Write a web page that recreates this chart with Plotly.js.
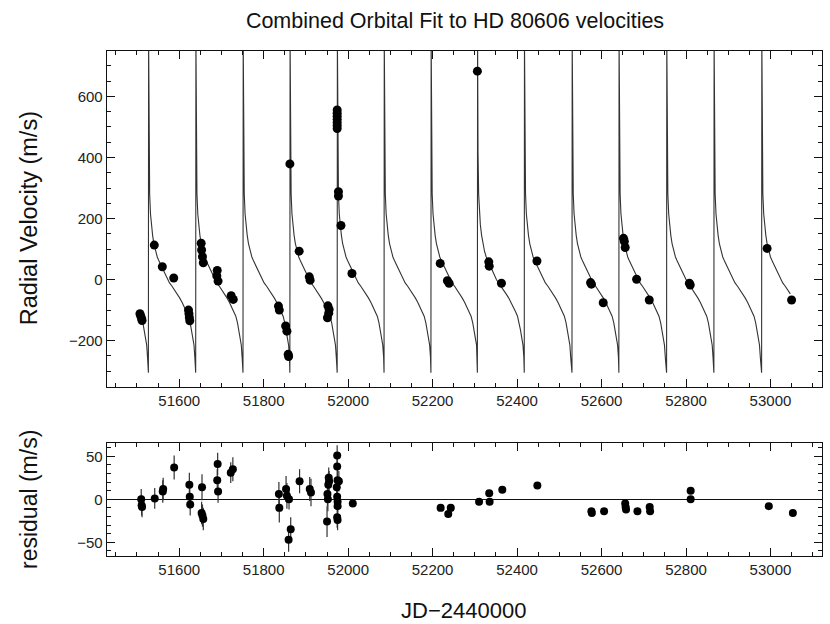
<!DOCTYPE html>
<html>
<head>
<meta charset="utf-8">
<script src="https://cdn.plot.ly/plotly-3.0.1.min.js"></script>
<style>html,body{margin:0;padding:0;background:#fff;}#chart{width:830px;height:624px;}</style>
</head>
<body>
<div id="chart"></div>
<script>
// ---- Model curve: periastron spike dates and one-cycle shape ----
const spikeDates = [51527, 51639, 51751, 51862, 51974, 52085, 52196, 52306, 52417, 52530, 52641, 52754, 52866, 52979];
const cycleDays = [0, 0.5, 1.5, 3, 5, 7, 10, 13, 17, 21, 26, 30, 35, 40, 45, 50, 56, 62, 68, 74, 80, 86, 91, 95, 99, 102, 105, 108, 110, 111];
const cycleVel  = [-305, 790, 420, 280, 215, 180, 145, 118, 92, 74, 58, 46, 30, 14, 0, -11, -22, -34, -47, -60, -75, -92, -107, -120, -142, -165, -190, -215, -255, -290];
const curveStart = 51505;
const curveEnd = 53050;

// ---- Radial velocity observations ----
const rvDates = [51507, 51509, 51511, 51512, 51541, 51560, 51587, 51622, 51623, 51624, 51625,
  51652, 51653, 51655, 51657, 51689, 51690, 51692, 51723, 51728,
  51835, 51837, 51852, 51855, 51858, 51859, 51862, 51884, 51908, 51910,
  51951, 51952, 51954, 51955, 51974, 51974, 51974, 51974, 51974, 51974, 51974,
  51977, 51977, 51983, 52009, 52218, 52235, 52239, 52306, 52333, 52334, 52363,
  52447, 52574, 52576, 52604, 52652, 52654, 52656, 52683, 52713, 52808, 52810,
  52992, 53050];
const rvValues = [-112, -120, -128, -134, 113, 42, 5, -100, -112, -124, -135,
  119, 97, 75, 55, 12, 30, -5, -53, -65,
  -87, -100, -152, -169, -245, -252, 379, 93, 9, -2,
  -125, -86, -110, -98, 556, 545, 535, 525, 515, 505, 495,
  288, 274, 177, 20, 53, -4, -12, 683, 58, 44, -12,
  61, -10, -15, -76, 135, 125, 105, 1, -67, -12, -18,
  102, -67];

// ---- Residuals ----
const resDates = [51510, 51511, 51512, 51542, 51561, 51562, 51588, 51624, 51625, 51626,
  51653, 51654, 51655, 51657, 51690, 51691, 51692, 51722, 51727,
  51836, 51837, 51853, 51855, 51860, 51859, 51864, 51885, 51909, 51912,
  51950, 51951, 51952, 51953, 51954, 51955,
  51974, 51974, 51975, 51978, 51973, 51974, 51975, 51975, 51974, 51975,
  52011, 52219, 52237, 52243, 52310, 52334, 52335, 52365, 52448,
  52576, 52577, 52606, 52656, 52657, 52658, 52685, 52714, 52715,
  52811, 52811, 52996, 53053];
const resValues = [0, -7, -9, 1, 9, 12, 37, 17, 3, -6,
  -16, 14, -19, -23, 22, 41, 9, 31, 35,
  6, -10, 12, 4, 0, -47, -35, 21, 12, 8,
  -26, 6, 0, 17, 25, 21,
  51, 38, 22, 21, 14, 3, -3, -8, -21, -24,
  -5, -10, -17, -10, -3, 7, -3, 11, 16,
  -14, -16, -14, -5, -9, -12, -14, -9, -14,
  10, 0, -8, -16];
const resErrors = [12, 12, 12, 12, 13, 13, 14, 14, 14, 13,
  13, 15, 13, 13, 13, 13, 13, 12, 14,
  14, 17, 15, 15, 12, 14, 14, 14, 14, 16,
  18, 14, 14, 14, 12, 12,
  12, 12, 12, 12, 12, 12, 12, 12, 12, 12,
  4, 3, 3, 3, 3, 3, 3, 3, 3,
  3, 3, 3, 3, 3, 3, 3, 3, 3,
  3, 3, 3, 3];

const xTickVals = [51600, 51800, 52000, 52200, 52400, 52600, 52800, 53000];

// ---- build the model curve from the cycle shape and spike dates ----
const curveX = [], curveY = [];
const firstGap = spikeDates[1] - spikeDates[0];
const preStart = spikeDates[0] - firstGap;
for (let i = 0; i < cycleDays.length; i++) {
  const d = preStart + cycleDays[i];
  if (d >= curveStart && d < spikeDates[0]) { curveX.push(d); curveY.push(cycleVel[i]); }
}
for (let k = 0; k < spikeDates.length; k++) {
  const limit = k < spikeDates.length - 1 ? spikeDates[k + 1] : curveEnd + 0.01;
  for (let i = 0; i < cycleDays.length; i++) {
    const d = spikeDates[k] + cycleDays[i];
    if (d < limit && d <= curveEnd) { curveX.push(d); curveY.push(cycleVel[i]); }
  }
}

const FONT = 'Liberation Sans, Arial, Helvetica, sans-serif';
const xRange = [51429, 53122];

function axisBase(extra) {
  return Object.assign({
    showline: true, linecolor: '#111', linewidth: 1.3, mirror: 'allticks',
    ticks: 'inside', ticklen: 8, tickwidth: 1, tickcolor: '#111',
    showgrid: false, zeroline: false,
    tickfont: {family: FONT, size: 15, color: '#222'}
  }, extra);
}

const traces = [
  {x: curveX, y: curveY, type: 'scatter', mode: 'lines', line: {color: '#333', width: 1.1},
   xaxis: 'x', yaxis: 'y', hoverinfo: 'skip', cliponaxis: true},
  {x: rvDates, y: rvValues, type: 'scatter', mode: 'markers',
   marker: {color: '#000', size: 9}, xaxis: 'x', yaxis: 'y'},
  {x: resDates, y: resValues, type: 'scatter', mode: 'markers',
   marker: {color: '#000', size: 8},
   error_y: {type: 'data', array: resErrors, visible: true, color: '#333', thickness: 1.2, width: 0},
   xaxis: 'x2', yaxis: 'y2'}
];

const layout = {
  width: 830, height: 624,
  margin: {l: 107, r: 8, t: 51, b: 68},
  paper_bgcolor: '#fff', plot_bgcolor: '#fff',
  showlegend: false,
  font: {family: FONT, color: '#111'},
  title: {text: 'Combined Orbital Fit to HD 80606 velocities', x: 455 / 830, xanchor: 'center',
          y: 1 - 20 / 624, yanchor: 'middle', xref: 'container', yref: 'container',
          font: {family: FONT, size: 21.5, color: '#111'}},
  xaxis: axisBase({range: xRange, domain: [0, 1], anchor: 'y', tickvals: xTickVals,
    ticktext: xTickVals.map(String), minor: {dtick: 50, tick0: 51600, ticks: 'inside', ticklen: 4, tickcolor: '#111'}}),
  yaxis: axisBase({range: [-352, 749], domain: [0.3347, 1], anchor: 'x', dtick: 200, tick0: 0,
    minor: {dtick: 50, ticks: 'inside', ticklen: 4, tickcolor: '#111'}}),
  xaxis2: axisBase({range: xRange, domain: [0, 1], anchor: 'y2', tickvals: xTickVals,
    ticktext: xTickVals.map(String), minor: {dtick: 50, tick0: 51600, ticks: 'inside', ticklen: 4, tickcolor: '#111'}}),
  yaxis2: axisBase({range: [-66, 65.5], domain: [0, 0.2238], anchor: 'x2', dtick: 50, tick0: 0,
    zeroline: true, zerolinecolor: '#111', zerolinewidth: 1.2,
    minor: {dtick: 10, ticks: 'inside', ticklen: 4, tickcolor: '#111'}}),
  annotations: [
    {text: 'Radial Velocity (m/s)', xref: 'paper', yref: 'paper', x: -0.109, y: 0.669,
     textangle: -90, showarrow: false, xanchor: 'center', yanchor: 'middle',
     font: {family: FONT, size: 23.5, color: '#111'}},
    {text: 'residual (m/s)', xref: 'paper', yref: 'paper', x: -0.109, y: 0.111,
     textangle: -90, showarrow: false, xanchor: 'center', yanchor: 'middle',
     font: {family: FONT, size: 23, color: '#111'}},
    {text: 'JD\u22122440000', xref: 'paper', yref: 'paper', x: 0.499, y: -0.107,
     showarrow: false, xanchor: 'center', yanchor: 'middle',
     font: {family: FONT, size: 22, color: '#111'}}
  ]
};

Plotly.newPlot('chart', traces, layout, {displayModeBar: false, staticPlot: true});
</script>
</body>
</html>
